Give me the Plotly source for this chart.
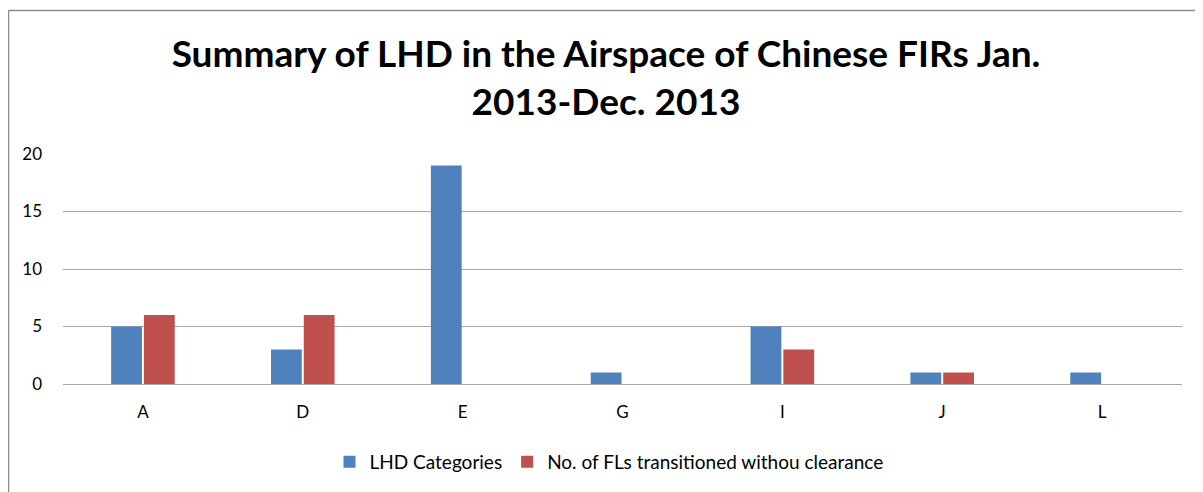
import plotly.graph_objects as go

categories = ["A", "D", "E", "G", "I", "J", "L"]
lhd_categories = [5, 3, 19, 1, 5, 1, 1]
fls_without_clearance = [6, 6, 0, 0, 3, 1, 0]
y_ticks = [0, 5, 10, 15, 20]

# page body has an 8px margin, so the figure is laid out in its own coords
OFF = 8
W, H = 1203 - OFF, 492 - OFF
ML, MR, MT, MB = 63 - OFF, 21, 154 - OFF, 107
pw, ph = W - ML - MR, H - MT - MB

fig = go.Figure()
fig.add_trace(go.Bar(x=categories, y=lhd_categories, name="LHD Categories",
                     marker=dict(color="#4F81BD", line=dict(width=0))))
fig.add_trace(go.Bar(x=categories, y=fls_without_clearance,
                     name="No. of FLs transitioned withou clearance",
                     marker=dict(color="#C0504D", line=dict(width=0))))

# screen pixel -> paper coords
px_x = lambda v: (v - OFF - ML) / pw
px_y = lambda v: (H - MB - (v - OFF)) / ph

# outer chart border (left and top edges visible in the source)
fig.add_shape(type="line", xref="paper", yref="paper",
              x0=px_x(OFF + 0.5), x1=px_x(1215), y0=px_y(10), y1=px_y(10),
              line=dict(color="#8c8c8c", width=1.5))
fig.add_shape(type="line", xref="paper", yref="paper",
              x0=px_x(OFF + 0.5), x1=px_x(OFF + 0.5), y0=px_y(10), y1=px_y(500),
              line=dict(color="#8c8c8c", width=1.5))

fig.update_layout(
    width=W, height=H,
    margin=dict(l=ML, r=MR, t=MT, b=MB),
    paper_bgcolor="white", plot_bgcolor="white",
    barmode="group", bargap=0.59, bargroupgap=0.06,
    font=dict(family="Lato, Carlito, Calibri, sans-serif", color="#000000", size=17),
    title=dict(text="<b>Summary of LHD in the Airspace of Chinese FIRs Jan.<br>2013-Dec. 2013</b>",
               x=px_x(606), xref="paper", xanchor="center",
               y=1 - (67 - OFF) / H, yref="container", yanchor="top",
               font=dict(size=37, color="#000000")),
    showlegend=True,
    legend=dict(orientation="h", x=px_x(609), xanchor="center", xref="paper",
                y=px_y(462), yanchor="middle", font=dict(size=19),
                itemwidth=30, traceorder="normal"),
    xaxis=dict(showgrid=False, showline=False, ticks="", ticklabelstandoff=16,
               tickfont=dict(size=17)),
    yaxis=dict(range=[0, 20], tickvals=y_ticks, showgrid=True, gridcolor="#a6a6a6",
               gridwidth=1, zeroline=True, zerolinecolor="#a6a6a6", zerolinewidth=1,
               showline=False, ticks="", ticklabelstandoff=20, tickfont=dict(size=17)),
)

fig.write_html("out.html")
